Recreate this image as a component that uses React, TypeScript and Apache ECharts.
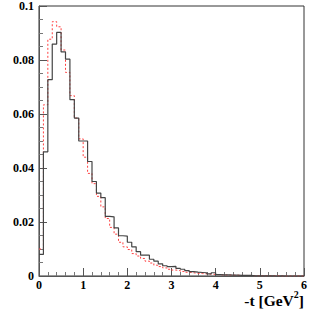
import React, { useEffect, useRef } from "react";
import * as echarts from "echarts";

const BIN_WIDTH = 0.1;
const X_MAX = 6;
const xTicks = [0, 1, 2, 3, 4, 5, 6];
const yTicks = [0, 0.02, 0.04, 0.06, 0.08, 0.1];

// solid black histogram (bins of 0.1 GeV^2 from 0)
const solidValues = [
  0.008, 0.046, 0.0727, 0.0859, 0.0902, 0.083, 0.0803, 0.0653, 0.0585, 0.05,
  0.05, 0.0424, 0.035, 0.0307, 0.029, 0.0221, 0.0219, 0.0178, 0.0149, 0.0148,
  0.0125, 0.0108, 0.009, 0.0077, 0.0077, 0.0062, 0.0055, 0.0045, 0.0038, 0.0035,
  0.0036, 0.0028, 0.0025, 0.002, 0.0016, 0.0014, 0.0013, 0.0012, 0.0008, 0.0012,
  0.0005, 0.0004, 0.0004, 0.0003, 0.0003, 0.0002, 0.0002, 0.0002, 0.0001, 0.0001,
  0.0001, 0.0001, 0.0001, 0.0, 0.0001, 0.0, 0.0, 0.0, 0.0, 0.0,
];

// dashed red histogram
const dashedValues = [
  0.01, 0.0634, 0.0877, 0.0942, 0.0923, 0.0837, 0.0754, 0.0668, 0.0585, 0.0508,
  0.044, 0.038, 0.0342, 0.0295, 0.0256, 0.0213, 0.018, 0.0155, 0.0125, 0.0108,
  0.0098, 0.0083, 0.0074, 0.0065, 0.0055, 0.0048, 0.004, 0.0035, 0.003, 0.0025,
  0.0022, 0.002, 0.0017, 0.0014, 0.0012, 0.001, 0.0009, 0.0008, 0.0007, 0.0006,
  0.0005, 0.0004, 0.0004, 0.0003, 0.0003, 0.0002, 0.0002, 0.0002, 0.0001, 0.0001,
  0.0001, 0.0001, 0.0001, 0.0001, 0.0, 0.0, 0.0, 0.0, 0.0, 0.0,
];

const axisTitleMain = "-t [GeV";
const axisTitleSup = "2";
const axisTitleEnd = "]";

function toSteps(vals: number[]) {
  const pts: [number, number][] = vals.map((v, i) => [+(i * BIN_WIDTH).toFixed(2), v]);
  pts.push([X_MAX, vals[vals.length - 1]]);
  return pts;
}

export default function App() {
  const ref = useRef<HTMLDivElement>(null);
  useEffect(() => {
    if (!ref.current) return;
    const chart = echarts.init(ref.current, null, { renderer: "svg" });
    const font = "Liberation Serif, serif";
    const titleStyle = { fontFamily: font, fontWeight: "bold", fontSize: 15.5, fill: "#000" };
    chart.setOption({
      animation: false,
      backgroundColor: "#ffffff",
      grid: {
        left: 39,
        right: 8,
        top: 5,
        bottom: 36,
        show: true,
        borderColor: "#333",
        borderWidth: 1,
        backgroundColor: "transparent",
      },
      xAxis: {
        type: "value",
        min: 0,
        max: X_MAX,
        interval: 1,
        axisLine: { show: true, lineStyle: { color: "#555", width: 1 } },
        axisTick: { show: true, inside: true, length: 8, lineStyle: { color: "#555" } },
        minorTick: { show: true, splitNumber: 5, length: 4, lineStyle: { color: "#777" } },
        splitLine: { show: false },
        axisLabel: {
          margin: 3,
          color: "#000",
          fontFamily: font,
          fontWeight: "bold",
          fontSize: 12,
          formatter: (v: number) => (xTicks.includes(v) ? String(v) : ""),
        },
      },
      yAxis: {
        type: "value",
        min: 0,
        max: 0.1,
        interval: 0.02,
        axisLine: { show: true, lineStyle: { color: "#555", width: 1 } },
        axisTick: { show: true, inside: true, length: 8, lineStyle: { color: "#555" } },
        minorTick: { show: true, splitNumber: 4, length: 4, lineStyle: { color: "#777" } },
        splitLine: { show: false },
        axisLabel: {
          margin: 5,
          color: "#000",
          fontFamily: font,
          fontWeight: "bold",
          fontSize: 12,
          formatter: (v: number) => {
            const r = +v.toFixed(2);
            return yTicks.some((t) => Math.abs(t - r) < 1e-9) ? String(r) : "";
          },
        },
      },
      graphic: [
        {
          type: "text",
          x: 304,
          y: 300.5,
          style: { ...titleStyle, text: axisTitleEnd, textAlign: "right", textVerticalAlign: "middle" },
        },
        {
          type: "text",
          x: 298.8,
          y: 294,
          style: { ...titleStyle, fontSize: 10, text: axisTitleSup, textAlign: "right", textVerticalAlign: "middle" },
        },
        {
          type: "text",
          x: 293.8,
          y: 300.5,
          style: { ...titleStyle, text: axisTitleMain, textAlign: "right", textVerticalAlign: "middle" },
        },
      ],
      series: [
        {
          type: "line",
          step: "end",
          data: toSteps(dashedValues),
          showSymbol: false,
          symbol: "none",
          lineStyle: { color: "#ff4040", width: 1, type: [2, 2] },
          z: 2,
        },
        {
          type: "line",
          step: "end",
          data: toSteps(solidValues),
          showSymbol: false,
          symbol: "none",
          lineStyle: { color: "#444", width: 1.2 },
          z: 3,
        },
      ],
    });
    return () => chart.dispose();
  }, []);
  return (
    <div
      ref={ref}
      style={{ position: "fixed", left: 0, top: 0, width: 312, height: 312, background: "#fff" }}
    />
  );
}
